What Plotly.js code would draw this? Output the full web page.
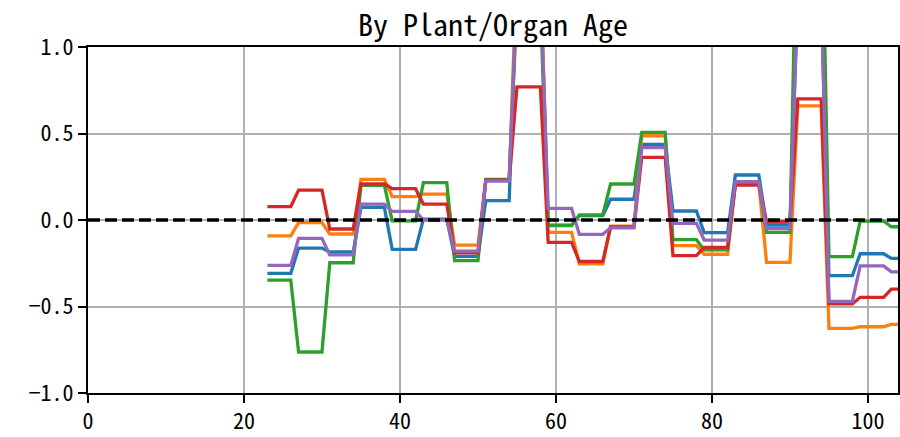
<!DOCTYPE html>
<html>
<head>
<meta charset="utf-8">
<script src="https://cdn.plot.ly/plotly-3.0.1.min.js"></script>
<style>html,body{margin:0;padding:0;background:#fff;}#chart{width:900px;height:437px;}</style>
</head>
<body>
<div id="chart"></div>
<script>
// Start of each 4-unit block (value held flat from start to start+3)
const blockStart = [23, 27, 31, 35, 39, 43, 47, 51, 55, 59, 63, 67, 71, 75, 79, 83, 87, 91, 95, 99, 103];
const blockLen = 3;

const seriesBlue   = [-0.308, -0.162, -0.185, 0.073, -0.170, 0.005, -0.210, 0.112, 1.40, -0.030, 0.025, 0.120, 0.437, 0.052, -0.073, 0.260, -0.029, 1.30, -0.322, -0.195, -0.222];
const seriesOrange = [-0.092, -0.015, -0.081, 0.235, 0.135, 0.150, -0.145, 0.230, 1.50, -0.071, -0.254, -0.035, 0.486, -0.148, -0.198, 0.210, -0.245, 0.660, -0.626, -0.617, -0.603];
const seriesGreen  = [-0.347, -0.763, -0.247, 0.200, -0.005, 0.216, -0.235, 0.235, 1.25, -0.033, 0.029, 0.208, 0.507, -0.114, -0.173, 0.220, -0.071, 2.10, -0.212, -0.006, -0.039];
const seriesRed    = [0.077, 0.173, -0.052, 0.208, 0.181, 0.092, -0.190, 0.230, 0.770, -0.129, -0.240, -0.040, 0.362, -0.206, -0.158, 0.202, -0.010, 0.700, -0.485, -0.447, -0.400];
const seriesPurple = [-0.262, -0.106, -0.202, 0.092, 0.050, 0.000, -0.180, 0.225, 1.35, 0.067, -0.083, -0.045, 0.418, -0.019, -0.116, 0.222, -0.050, 1.33, -0.470, -0.265, -0.300];

const colors = ['#1f77b4', '#ff7f0e', '#2ca02c', '#d62728', '#9467bd'];
const allSeries = [seriesBlue, seriesOrange, seriesGreen, seriesRed, seriesPurple];

const xTickVals = [0, 20, 40, 60, 80, 100];
const yTickVals = [-1.0, -0.5, 0.0, 0.5, 1.0];
const titleText = 'By Plant/Organ Age';

function stepXY(vals) {
  const xs = [], ys = [];
  blockStart.forEach((s, i) => { xs.push(s, s + blockLen); ys.push(vals[i], vals[i]); });
  return {xs, ys};
}

const traces = allSeries.map((vals, i) => {
  const p = stepXY(vals);
  return {x: p.xs, y: p.ys, type: 'scatter', mode: 'lines',
          line: {color: colors[i], width: 3.3}, hoverinfo: 'skip', showlegend: false};
});

const fontFam = '"Noto Sans Mono CJK JP", "Noto Sans CJK JP", sans-serif';
const layout = {
  width: 900, height: 437,
  margin: {l: 88, r: 2, t: 47, b: 44},
  paper_bgcolor: '#fff', plot_bgcolor: '#fff',
  showlegend: false,
  title: {text: titleText, font: {family: fontFam, size: 30, color: '#000'},
          x: 0.5, xref: 'paper', xanchor: 'center', y: 1 - 25/437, yref: 'container', yanchor: 'middle'},
  xaxis: {range: [0, 103.85], tickvals: xTickVals, ticktext: xTickVals.map(String),
          showgrid: true, gridcolor: '#b0b0b0', gridwidth: 2, zeroline: false,
          showline: true, linecolor: '#000', linewidth: 2, mirror: true,
          ticks: 'outside', ticklen: 8, tickwidth: 2, tickcolor: '#000',
          tickfont: {family: fontFam, size: 22, color: '#000'}},
  yaxis: {range: [-1, 1], tickvals: yTickVals, tickformat: '.1f',
          showgrid: true, gridcolor: '#b0b0b0', gridwidth: 2, zeroline: false,
          showline: true, linecolor: '#000', linewidth: 2, mirror: true,
          ticks: 'outside', ticklen: 8, tickwidth: 2, tickcolor: '#000',
          tickfont: {family: fontFam, size: 22, color: '#000'}},
  shapes: [{type: 'line', xref: 'paper', x0: 0, x1: 1, yref: 'y', y0: 0, y1: 0,
            line: {color: '#000', width: 3.3, dash: '12px,5px'}, layer: 'above'}]
};

Plotly.newPlot('chart', traces, layout, {staticPlot: true, displayModeBar: false});
</script>
</body>
</html>
